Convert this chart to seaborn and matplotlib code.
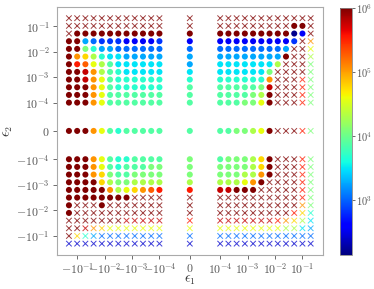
import numpy as np
import pandas as pd
import matplotlib
import matplotlib.pyplot as plt
import matplotlib.colors as mcolors
import seaborn as sns

matplotlib.use('Agg')

# perturbation sizes on one side of zero (same grid for eps1 and eps2)
eps_side = [1e-4, 2e-4, 4e-4, 8e-4, 1.6e-3, 3.2e-3, 6.4e-3, 1.28e-2,
            2.56e-2, 5.12e-2, 1.024e-1, 2.048e-1]

# colour code -> log10 of the value
# upper case = converged point (circle), lower case = failed point (cross)
code_level = {'V': 2.42, 'K': 2.2, 'N': 2.57, 'B': 2.84, 'M': 3.04, 'S': 3.27,
              'C': 3.5, 'T': 3.69, 'A': 3.88, 'G': 4.08, 'L': 4.31, 'Y': 4.58,
              'P': 4.77, 'O': 5.04, 'Q': 5.27, 'R': 5.54, 'E': 5.77, 'D': 6.3}

# rows from eps2 = +0.2048 down to +1e-4; columns from eps1 = -0.2048 to +0.2048
top_rows = [
    "dddddddddddd" "d" "dddddddddddd",
    "dddddddddddd" "d" "dddddddddDDd",
    "dDDDDDDDDDDD" "D" "DDDDDDDDDKNd",
    "DDSMBBBNNNNB" "N" "NNNNNNNNNBdo",
    "DDGTSSMMMMMM" "M" "MMMMMMMMSddy",
    "DOPLTCCSSSSS" "S" "SSSSSSSSDddl",
    "DRQYLACCCCCC" "S" "CCCCCCCLdddg",
    "DDEOLATCCCCC" "C" "CCCCCCGddddg",
    "DDEOYATTTTTT" "T" "TTTTTTOdddrg",
    "DDDOYATTTTTT" "A" "AAAAAGEdddrg",
    "DDDOYAAAAAAA" "A" "AAAAGLDdddrg",
    "DDDOYAAAAAAA" "A" "AAAGGYDdddrg",
]
zero_row = "DDDOYATAAAAA" "A" "AAGGLYDdddrg"
# rows from eps2 = -1e-4 down to -0.2048
bottom_rows = [
    "DDDOYATTAAAA" "G" "AGGGLPDdddrg",
    "DDDOYATAAAGG" "G" "GGGGLPDdddrg",
    "DDDOPGAAGGGG" "G" "GGGLLODdddrg",
    "DDDDPLGGLLLL" "L" "LLLYODddddrg",
    "DDDDDOLYPOQR" "R" "EEDDDdddddrg",
    "DDDDDDDDdddd" "d" "ddddddddddrg",
    "DdddDddddddd" "d" "ddddddddddog",
    "Dddddddddddd" "d" "dddddddddrpt",
    "dddddddeeeee" "r" "eeeeeeeroplc",
    "ddeopyyyyyyy" "y" "yyyyyyyyllcs",
    "dptsmmmmmmmm" "m" "mmmmmmmmmmmm",
    "vvvvvvvvvvvv" "v" "vvvvvvvvvvvv",
]

x_ticks = [-1e-1, -1e-2, -1e-3, -1e-4, 0, 1e-4, 1e-3, 1e-2, 1e-1]
tick_labels = [r'$-10^{-1}$', r'$-10^{-2}$', r'$-10^{-3}$', r'$-10^{-4}$', r'$0$',
               r'$10^{-4}$', r'$10^{-3}$', r'$10^{-2}$', r'$10^{-1}$']
cbar_ticks = [1e3, 1e4, 1e5, 1e6]
cbar_labels = [r'$10^{3}$', r'$10^{4}$', r'$10^{5}$', r'$10^{6}$']

# --- build long table ---
x_vals = [-e for e in reversed(eps_side)] + [0.0] + eps_side
y_vals = list(reversed(eps_side)) + [0.0] + [-e for e in eps_side]
all_rows = top_rows + [zero_row] + bottom_rows

records = []
for r, row in enumerate(all_rows):
    for c, code in enumerate(row):
        records.append({"e1": x_vals[c], "e2": y_vals[r],
                        "value": 10 ** code_level[code.upper()],
                        "ok": code.isupper()})
df = pd.DataFrame(records)

plt.rcParams['mathtext.fontset'] = 'cm'
plt.rcParams['font.family'] = ['DejaVu Serif']

fig = plt.figure(figsize=(3.74, 2.89), dpi=100)
ax = fig.add_axes([0.152, 0.118, 0.711, 0.858])
cax = fig.add_axes([0.909, 0.118, 0.032, 0.855])

norm = mcolors.LogNorm(vmin=10 ** 2.15, vmax=1e6)
jet = matplotlib.colormaps['jet']

sns.scatterplot(data=df[df["ok"]], x="e1", y="e2", hue="value", hue_norm=norm,
                palette=jet, marker="o", s=19, linewidth=0, legend=False, ax=ax)
sns.scatterplot(data=df[~df["ok"]], x="e1", y="e2", hue="value", hue_norm=norm,
                palette=jet, marker="x", s=16, linewidth=0.7, alpha=0.75,
                legend=False, ax=ax)

ax.set_xscale('symlog', linthresh=1e-4)
ax.set_yscale('symlog', linthresh=1e-4)
ax.set_xticks(x_ticks)
ax.set_xticklabels(tick_labels)
ax.set_yticks(x_ticks)
ax.set_yticklabels(tick_labels)
ax.xaxis.set_minor_locator(matplotlib.ticker.NullLocator())
ax.yaxis.set_minor_locator(matplotlib.ticker.NullLocator())

ax.set_xlabel(r'$\epsilon_1$', fontsize=10, color='#333333')
ax.set_ylabel(r'$\epsilon_2$', fontsize=10, color='#333333', labelpad=1)
ax.xaxis.set_label_coords(0.5, -0.075)
ax.tick_params(labelsize=8.5, colors='#555555', length=3, width=0.6, pad=2)
for sp in ax.spines.values():
    sp.set_color('#aaaaaa')
    sp.set_linewidth(0.8)

sm = plt.cm.ScalarMappable(norm=norm, cmap=jet)
cb = fig.colorbar(sm, cax=cax)
cb.set_ticks(cbar_ticks)
cb.set_ticklabels(cbar_labels)
cb.ax.yaxis.set_minor_locator(matplotlib.ticker.NullLocator())
cb.ax.tick_params(labelsize=7.5, colors='#555555', length=2, width=0.6, pad=1)
cb.outline.set_edgecolor('#888888')
cb.outline.set_linewidth(0.6)

fig.savefig('out.png', dpi=100)
